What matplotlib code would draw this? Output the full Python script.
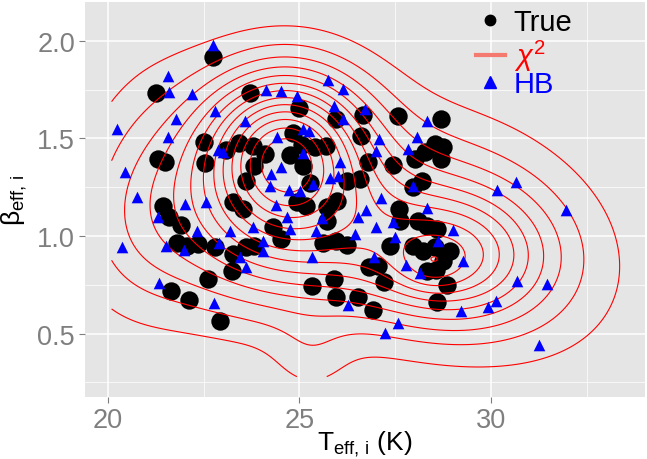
import matplotlib
matplotlib.use("Agg")
import matplotlib.pyplot as plt
import numpy as np
from matplotlib.lines import Line2D

plt.rcParams["font.family"] = ["Liberation Sans", "DejaVu Sans"]
plt.rcParams["mathtext.fontset"] = "custom"
plt.rcParams["mathtext.rm"] = "Liberation Sans"
plt.rcParams["mathtext.it"] = "Liberation Sans:italic"
plt.rcParams["mathtext.default"] = "regular"

# ---------------------------------------------------------------- data
# "True" values (black circles)
true_t = [22.75, 21.27, 23.71, 22.51, 21.31, 21.49, 22.53, 23.08, 23.43, 23.79,
          23.81, 23.62, 24.99, 25.95, 26.65, 27.58, 26.62, 24.84, 25.06, 25.40,
          25.69, 24.75, 25.10, 24.10, 26.80, 27.45, 28.02, 26.23, 26.58, 25.29,
          27.97, 28.69, 28.76, 28.69, 28.54, 28.28, 28.19, 21.43, 21.60, 21.90,
          23.27, 23.52, 21.81, 22.07, 22.36, 22.79, 23.27, 23.62, 23.81, 23.23,
          22.62, 21.66, 22.12, 22.94, 24.93, 25.17, 25.71, 25.99, 25.71, 24.30,
          24.51, 25.62, 25.95, 26.25, 27.61, 27.62, 28.10, 27.36, 27.97, 26.82,
          27.06, 27.21, 25.34, 25.90, 25.95, 26.53, 26.91, 28.32, 28.60, 28.23,
          28.54, 28.93, 28.75, 28.56, 28.84, 28.58, 28.34]
true_b = [1.915, 1.735, 1.735, 1.48, 1.395, 1.38, 1.375, 1.44, 1.476, 1.46,
          1.36, 1.28, 1.654, 1.60, 1.62, 1.613, 1.514, 1.527, 1.466, 1.454,
          1.463, 1.415, 1.36, 1.42, 1.378, 1.364, 1.395, 1.284, 1.292, 1.272,
          1.25, 1.60, 1.455, 1.395, 1.47, 1.43, 1.284, 1.156, 1.096, 1.058,
          1.173, 1.139, 0.963, 0.951, 0.96, 0.943, 0.908, 0.943, 0.951, 0.82,
          0.78, 0.72, 0.673, 0.564, 1.173, 1.156, 1.147, 1.181, 1.079, 1.048,
          0.985, 0.963, 0.973, 0.956, 1.139, 1.079, 1.079, 0.951, 0.951, 0.843,
          0.848, 0.763, 0.746, 0.78, 0.69, 0.69, 0.622, 1.053, 1.036, 0.925,
          0.943, 0.925, 0.874, 0.826, 0.751, 0.661, 0.82]

# hierarchical Bayes estimates (blue triangles)
hb_t = [22.75, 21.57, 21.60, 22.21, 22.79, 21.78, 23.58, 20.24, 21.57, 22.88,
        23.01, 20.44, 20.77, 25.75, 26.13, 24.13, 24.52, 24.94, 25.90, 26.14,
        26.71, 28.06, 24.42, 25.10, 25.26, 27.08, 27.01, 27.84, 25.10, 24.51,
        26.07, 24.27, 25.80, 26.01, 25.36, 24.23, 24.73, 25.01, 27.96, 30.16,
        30.65, 28.34, 22.01, 22.56, 21.31, 20.38, 21.51, 21.98, 22.33, 22.91,
        23.19, 23.78, 23.45, 23.62, 21.34, 22.77, 24.40, 24.68, 24.75, 24.05,
        24.05, 25.43, 25.60, 25.34, 26.53, 26.74, 26.45, 27.00, 27.14, 27.45,
        27.49, 26.95, 27.78, 26.27, 27.58, 27.23, 28.15, 28.34, 31.96, 29.00,
        28.62, 29.26, 30.69, 31.47, 30.13, 29.93, 29.23, 31.24]
hb_b = [1.98, 1.82, 1.74, 1.73, 1.64, 1.60, 1.59, 1.55, 1.51, 1.44,
        1.43, 1.33, 1.20, 1.80, 1.753, 1.748, 1.744, 1.715, 1.667, 1.60,
        1.65, 1.505, 1.505, 1.55, 1.54, 1.497, 1.437, 1.446, 1.425, 1.352,
        1.378, 1.318, 1.30, 1.31, 1.267, 1.258, 1.237, 1.232, 1.258, 1.235,
        1.275, 1.59, 1.164, 1.173, 1.096, 0.946, 0.951, 0.929, 1.028, 0.963,
        1.025, 1.045, 0.891, 0.84, 0.758, 0.656, 1.16, 1.10, 1.036, 0.976,
        0.925, 1.025, 1.093, 0.894, 1.10, 1.134, 1.012, 1.045, 1.195, 1.07,
        0.997, 0.894, 0.854, 0.649, 0.554, 0.503, 0.81, 1.144, 1.134, 1.03,
        0.976, 0.871, 0.772, 0.755, 0.667, 0.636, 0.615, 0.44]

# chi^2 density, described as a sum of bumps: centre, widths, tilt, height
bump_t = [24.6, 24.8, 21.0, 29.0, 28.4, 29.5, 25.3]
bump_b = [1.45, 1.00, 1.27, 0.88, 0.84, 1.02, 0.38]
bump_st = [1.5, 2.5, 1.3, 1.6, 0.6, 2.5, 0.7]
bump_sb = [0.28, 0.30, 0.42, 0.23, 0.09, 0.42, 0.15]
bump_rho = [0.0, 0.0, 0.15, 0.0, 0.0, -0.3, 0.0]
bump_amp = [0.80, 0.40, 0.14, 0.36, 0.08, 0.20, 0.065]
n_levels = 13

x_ticks = [20, 25, 30]
y_ticks = [0.5, 1.0, 1.5, 2.0]

# ---------------------------------------------------------------- density
gx = np.linspace(20.1, 33.7, 300)
gy = np.linspace(0.28, 2.11, 300)
GX, GY = np.meshgrid(gx, gy)
dens = np.zeros_like(GX)
for mt, mb, st, sb, r, a in zip(bump_t, bump_b, bump_st, bump_sb, bump_rho, bump_amp):
    u = (GX - mt) / st
    v = (GY - mb) / sb
    q = (u ** 2 - 2 * r * u * v + v ** 2) / (1 - r ** 2)
    dens += a * np.exp(-0.5 * q)
levels = dens.max() * np.arange(1, n_levels + 1) / (n_levels + 1)

# ---------------------------------------------------------------- plot
fig, ax = plt.subplots(figsize=(6.47, 4.60), dpi=100)
fig.subplots_adjust(left=0.131, right=0.997, top=0.993, bottom=0.135)

ax.set_facecolor("#E5E5E5")
for s in ax.spines.values():
    s.set_visible(False)
ax.set_xlim(19.40, 34.02)
ax.set_ylim(0.176, 2.198)
ax.set_xticks(x_ticks)
ax.set_yticks(y_ticks)
ax.set_yticklabels([f"{v:.1f}" for v in y_ticks])
ax.set_xticks([22.5, 27.5, 32.5], minor=True)
ax.set_yticks([0.25, 0.75, 1.25, 1.75], minor=True)
ax.grid(which="major", color="white", lw=1.1)
ax.grid(which="minor", color="white", lw=0.5)
ax.set_axisbelow(True)
ax.tick_params(which="major", length=4, width=0.8, color="#7F7F7F",
               labelcolor="#7F7F7F", labelsize=19.5, pad=3)
ax.tick_params(which="minor", length=0)

ax.scatter(true_t, true_b, s=175, c="black", lw=0, zorder=3)
ax.contour(GX, GY, dens, levels=levels, colors="red", linewidths=0.8, zorder=4)
ax.scatter(hb_t, hb_b, s=70, c="blue", marker="^", lw=0, zorder=5)

ax.set_xlabel(r"T$_{\rm eff,\,i}$ (K)", fontsize=19, labelpad=-3)
ax.set_ylabel(r"$\beta_{\rm eff,\,i}$", fontsize=19, labelpad=6)

# legend: True + chi^2 in one block, HB placed just below
leg_style = dict(loc="upper left", frameon=False, fontsize=21,
                 handlelength=1.0, handletextpad=0.3, labelspacing=0.05,
                 borderpad=0, borderaxespad=0)
leg1 = ax.legend(
    [Line2D([], [], marker="o", ls="none", color="black", ms=7.5),
     Line2D([], [], color="#F47A70", lw=3)],
    ["True", r"$\mathit{\chi}^2$"], bbox_to_anchor=(0.698, 0.985),
    labelcolor=["black", "red"], **leg_style)
ax.add_artist(leg1)
ax.legend([Line2D([], [], marker="^", ls="none", color="blue", ms=8.5)],
          ["HB"], bbox_to_anchor=(0.698, 0.828), labelcolor=["blue"],
          **leg_style)

fig.savefig("out.png", dpi=100)
